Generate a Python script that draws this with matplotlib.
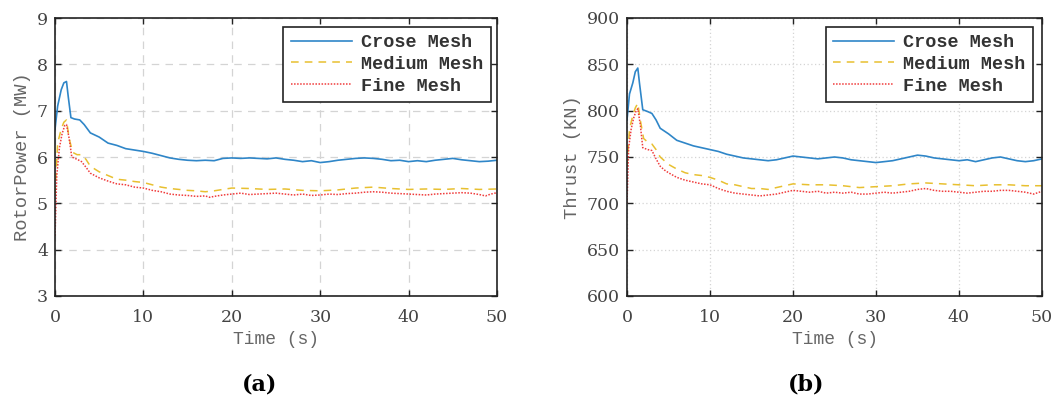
import matplotlib.pyplot as plt

# ---- data ----
t_crose_p = [0, 0.3, 0.7, 1.0, 1.3, 1.5, 1.8, 2.2, 2.8, 3.3, 4, 5, 6, 7, 8, 9, 10, 11, 12, 13, 14, 15,
             16, 17, 18, 19, 20, 21, 22, 23, 24, 25, 26, 27, 28, 29, 30, 31, 32, 33, 34, 35, 36, 37,
             38, 39, 40, 41, 42, 43, 44, 45, 46, 47, 48, 49, 50]
crose_p = [6.6, 7.1, 7.45, 7.6, 7.63, 7.3, 6.85, 6.82, 6.8, 6.7, 6.52, 6.43, 6.3, 6.25, 6.18, 6.15, 6.12,
           6.08, 6.03, 5.98, 5.95, 5.93, 5.92, 5.93, 5.92, 5.97, 5.98, 5.97, 5.98, 5.97, 5.96, 5.98,
           5.95, 5.93, 5.9, 5.92, 5.88, 5.9, 5.93, 5.95, 5.97, 5.98, 5.97, 5.95, 5.92, 5.93, 5.9,
           5.92, 5.9, 5.93, 5.95, 5.97, 5.94, 5.92, 5.9, 5.91, 5.93]

t_medium_p = [0, 0.3, 0.7, 1.0, 1.3, 1.6, 2.0, 2.5, 3.0, 3.5, 4, 5, 6, 7, 8, 9, 10, 11, 12, 13, 14, 15,
              16, 17, 18, 19, 20, 22, 24, 26, 28, 30, 32, 34, 36, 38, 40, 42, 44, 46, 48, 50]
medium_p = [5.2, 6.3, 6.6, 6.75, 6.8, 6.4, 6.1, 6.05, 6.05, 5.95, 5.8, 5.68, 5.6, 5.52, 5.5, 5.47, 5.45,
            5.4, 5.35, 5.32, 5.3, 5.28, 5.27, 5.25, 5.27, 5.3, 5.33, 5.32, 5.3, 5.31, 5.28, 5.27, 5.29,
            5.33, 5.35, 5.32, 5.3, 5.31, 5.3, 5.32, 5.3, 5.31]

t_fine_p = [0, 0.2, 0.5, 0.8, 1.1, 1.3, 1.6, 1.9, 2.5, 3.0, 3.5, 4, 4.5, 5, 6, 7, 8, 9, 10, 11, 12, 13,
            14, 15, 16, 17, 17.5, 18, 19, 20, 21, 22, 23, 24, 25, 26, 27, 28, 29, 30, 31, 32, 33, 34,
            35, 36, 37, 38, 39, 40, 41, 42, 43, 44, 45, 46, 47, 48, 48.7, 49.3, 50]
fine_p = [4.3, 5.6, 6.2, 6.5, 6.68, 6.7, 6.4, 6.0, 5.95, 5.9, 5.78, 5.65, 5.6, 5.55, 5.48, 5.42, 5.4,
          5.35, 5.33, 5.28, 5.25, 5.2, 5.18, 5.17, 5.15, 5.16, 5.13, 5.15, 5.18, 5.2, 5.22, 5.19, 5.2,
          5.21, 5.22, 5.2, 5.18, 5.2, 5.17, 5.18, 5.2, 5.19, 5.21, 5.22, 5.24, 5.25, 5.24, 5.22, 5.21,
          5.2, 5.19, 5.18, 5.2, 5.21, 5.22, 5.23, 5.22, 5.19, 5.16, 5.2, 5.23]

t_crose_t = [0, 0.3, 0.7, 1.0, 1.3, 1.5, 1.9, 2.5, 3.0, 3.5, 4, 5, 6, 7, 8, 9, 10, 11, 12, 13, 14, 15,
             16, 17, 18, 19, 20, 21, 22, 23, 24, 25, 26, 27, 28, 29, 30, 31, 32, 33, 34, 35, 36, 37,
             38, 39, 40, 41, 42, 43, 44, 45, 46, 47, 48, 49, 50]
crose_t = [790, 818, 830, 842, 846, 830, 801, 799, 797, 790, 781, 775, 768, 765, 762, 760, 758, 756,
           753, 751, 749, 748, 747, 746, 747, 749, 751, 750, 749, 748, 749, 750, 749, 747, 746, 745,
           744, 745, 746, 748, 750, 752, 751, 749, 748, 747, 746, 747, 745, 747, 749, 750, 748, 746,
           745, 746, 748]

t_medium_t = [0, 0.3, 0.7, 1.0, 1.3, 1.6, 2.0, 2.5, 3.0, 3.5, 4, 5, 6, 7, 8, 9, 10, 11, 12, 13, 14, 15,
              16, 17, 18, 19, 20, 22, 24, 26, 28, 30, 32, 34, 36, 38, 40, 42, 44, 46, 48, 50]
medium_t = [740, 780, 795, 803, 808, 790, 770, 766, 764, 758, 750, 742, 737, 733, 731, 730, 728, 725,
            721, 720, 718, 716, 716, 715, 717, 719, 721, 720, 720, 719, 717, 718, 719, 721, 722, 721,
            720, 719, 720, 720, 719, 719]

t_fine_t = [0, 0.2, 0.5, 0.8, 1.1, 1.3, 1.6, 1.9, 2.5, 3.0, 3.5, 4, 4.5, 5, 6, 7, 8, 9, 10, 11, 12, 13,
            14, 15, 16, 17, 18, 19, 20, 21, 22, 23, 24, 25, 26, 27, 28, 29, 30, 31, 32, 33, 34, 35,
            36, 37, 38, 39, 40, 41, 42, 43, 44, 45, 46, 47, 48, 49, 50]
fine_t = [700, 760, 780, 792, 800, 802, 785, 760, 758, 757, 748, 740, 736, 733, 728, 725, 723, 721,
          720, 716, 713, 711, 710, 709, 708, 709, 710, 712, 714, 713, 712, 713, 711, 712, 711, 712,
          710, 710, 711, 712, 711, 712, 713, 715, 716, 714, 713, 713, 712, 711, 712, 713, 713, 714,
          714, 713, 712, 710, 713]

blue = '#2f86c8'
yellow = '#e8c030'
red = '#f03c3c'
mono = 'Liberation Mono'
serif = 'DejaVu Serif'

fig = plt.figure(figsize=(10.55, 3.97), dpi=100)
ax1 = fig.add_axes([55 / 1055, 1 - 296 / 397, 442 / 1055, 278 / 397])
ax2 = fig.add_axes([627 / 1055, 1 - 296 / 397, 415 / 1055, 278 / 397])

panels = [
    (ax1, (t_crose_p, crose_p), (t_medium_p, medium_p), (t_fine_p, fine_p),
     (3, 9), range(3, 10), 'RotorPower (MW)', (0, (6, 5)), 0.986),
    (ax2, (t_crose_t, crose_t), (t_medium_t, medium_t), (t_fine_t, fine_t),
     (600, 900), range(600, 901, 50), 'Thrust (KN)', (0, (1, 2)), 0.978),
]

for ax, c, m, f, ylim, yticks, ylabel, gridls, legx in panels:
    ax.plot(c[0], c[1], color=blue, lw=1.2, label='Crose Mesh')
    ax.plot(m[0], m[1], color=yellow, lw=1.1, ls=(0, (5, 4)), label='Medium Mesh')
    ax.plot(f[0], f[1], color=red, lw=1.1, ls=(0, (1, 1)), label='Fine Mesh')
    ax.set_xlim(0, 50)
    ax.set_ylim(*ylim)
    ax.set_xticks(range(0, 51, 10))
    ax.set_yticks(list(yticks))
    ax.grid(True, color='#d4d4d4', ls=gridls, lw=0.9)
    ax.tick_params(direction='in', top=True, right=True, length=4, width=1,
                   labelsize=12.5, colors='#222222')
    ax.tick_params(axis='x', pad=9)
    ax.tick_params(axis='y', pad=5)
    for lab in ax.get_xticklabels() + ax.get_yticklabels():
        lab.set_fontfamily(serif)
        lab.set_color('#444444')
    for s in ax.spines.values():
        s.set_linewidth(1.2)
        s.set_color('#222222')
    ax.set_xlabel('Time (s)', fontfamily=mono, fontsize=13, color='#666666', labelpad=4)
    ax.set_ylabel(ylabel, fontfamily=mono, fontsize=13.5, color='#666666', labelpad=4)
    leg = ax.legend(loc='upper right', bbox_to_anchor=(legx, 0.968), borderaxespad=0,
                    prop={'family': mono, 'weight': 'bold', 'size': 13.3},
                    fancybox=False, edgecolor='#222222', framealpha=1, borderpad=0.4,
                    labelspacing=0.25, handlelength=3.3, handletextpad=0.5)
    leg.get_frame().set_linewidth(1.2)
    for txt in leg.get_texts():
        txt.set_color('#333333')

fig.text(260 / 1055, 1 - 384 / 397, '(a)', ha='center', va='center', fontfamily=serif,
         fontsize=16, fontweight='bold')
fig.text(806 / 1055, 1 - 384 / 397, '(b)', ha='center', va='center', fontfamily=serif,
         fontsize=16, fontweight='bold')

fig.savefig('out.png', dpi=100)
